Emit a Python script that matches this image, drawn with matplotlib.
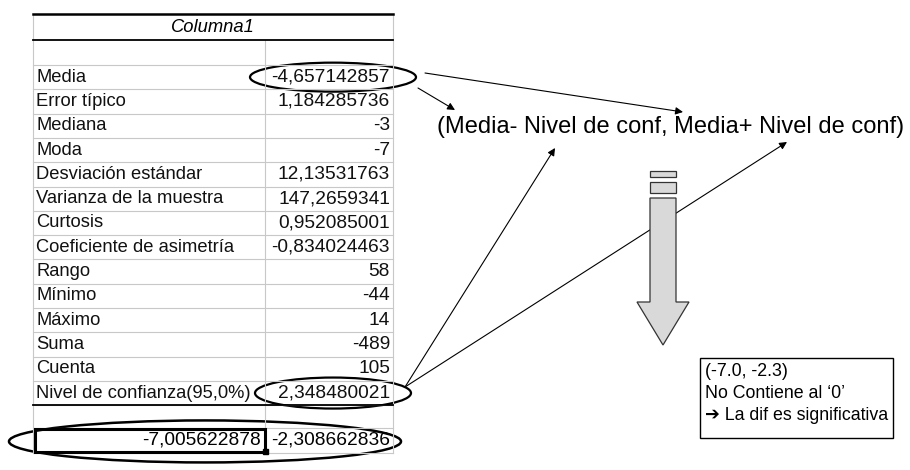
import matplotlib.pyplot as plt
from matplotlib.patches import Ellipse, Rectangle, Polygon

plt.rcParams['font.family'] = ['Liberation Sans', 'DejaVu Sans']

# datos de la tabla (estadística descriptiva)
encabezado = 'Columna1'
etiquetas = ['Media', 'Error típico', 'Mediana', 'Moda', 'Desviación estándar',
             'Varianza de la muestra', 'Curtosis', 'Coeficiente de asimetría',
             'Rango', 'Mínimo', 'Máximo', 'Suma', 'Cuenta',
             'Nivel de confianza(95,0%)']
valores = ['-4,657142857', '1,184285736', '-3', '-7', '12,13531763',
           '147,2659341', '0,952085001', '-0,834024463', '58', '-44', '14',
           '-489', '105', '2,348480021']
intervalo = ['-7,005622878', '-2,308662836']

formula = '(Media- Nivel de conf, Media+ Nivel de conf)'
conclusion = ['(-7.0, -2.3)', 'No Contiene al \u20180\u2019',
              '\u2794 La dif es significativa']

fig = plt.figure(figsize=(9.1, 4.7), dpi=100)
ax = fig.add_axes([0, 0, 1, 1])
ax.set_xlim(0, 910)
ax.set_ylim(470, 0)
ax.axis('off')

# geometria de la tabla
x_izq, x_mid, x_der = 33, 265, 393
y_top, y_head = 14, 40
fila = 24.3
y_media = 65  # borde superior de la fila "Media"
gris = '#c8c8c8'
fs_tab = 13.2
fs_val = 13.8

# lineas de cuadricula
n = len(etiquetas)
for i in range(n + 1):
    y = y_media + i * fila
    ax.plot([x_izq, x_der], [y, y], color=gris, lw=0.8)
y_fin = y_media + n * fila
y_ult = y_fin + fila * 0.95
y_bot = y_ult + fila
ax.plot([x_izq, x_der], [y_ult, y_ult], color=gris, lw=0.8)
ax.plot([x_izq, x_der], [y_bot, y_bot], color=gris, lw=0.8)
ax.plot([x_izq, x_izq], [y_top, y_bot], color=gris, lw=0.8)
ax.plot([x_der, x_der], [y_top, y_bot], color=gris, lw=0.8)
ax.plot([x_mid, x_mid], [y_head, y_bot], color=gris, lw=0.8)

# lineas gruesas
ax.plot([x_izq, x_der], [y_top, y_top], color='black', lw=1.8)
ax.plot([x_izq, x_der], [y_head, y_head], color='black', lw=1.3)
ax.plot([x_izq, x_der], [y_fin, y_fin], color='black', lw=1.3)

ax.text((x_izq + x_der) / 2, (y_top + y_head) / 2 + 1, encabezado,
        style='italic', fontsize=fs_tab, ha='center', va='center')

for i, (lab, val) in enumerate(zip(etiquetas, valores)):
    yc = y_media + (i + 0.5) * fila
    ax.text(x_izq + 3, yc, lab, fontsize=fs_tab, ha='left', va='center', color='#111111')
    ax.text(x_der - 3, yc, val, fontsize=fs_val, ha='right', va='center', color='#111111')

yc = (y_ult + y_bot) / 2
ax.text(x_mid - 4, yc, intervalo[0], fontsize=fs_val, ha='right', va='center')
ax.text(x_der - 3, yc, intervalo[1], fontsize=fs_val, ha='right', va='center')
# celda seleccionada
ax.add_patch(Rectangle((x_izq + 2, y_ult + 1), x_mid - x_izq - 2, y_bot - y_ult - 2,
                       fill=False, ec='black', lw=2.2, zorder=3))
ax.add_patch(Rectangle((x_mid - 2, y_bot - 4), 5, 5, color='black', zorder=4))

# elipses
ax.add_patch(Ellipse((333, y_media + 0.5 * fila), 166, 29, fill=False, ec='black', lw=1.6))
ax.add_patch(Ellipse((333, y_media + (n - 0.5) * fila), 156, 31, fill=False, ec='black', lw=1.6))
ax.add_patch(Ellipse((205, yc + 1), 392, 42, fill=False, ec='black', lw=1.8))

# texto del intervalo
ax.text(437, 127, formula, fontsize=17, ha='left', va='center')

# flechas
flechas = [((425, 73), (683, 112)), ((418, 88), (455, 110)),
           ((405, 387), (555, 148)), ((405, 387), (787, 142))]
for ini, fin in flechas:
    ax.annotate('', xy=fin, xytext=ini,
                arrowprops=dict(arrowstyle='-|>', lw=0.8, color='black',
                                mutation_scale=11, shrinkA=0, shrinkB=0))

# flecha grande hacia abajo
relleno = '#d9d9d9'
ax.add_patch(Rectangle((650, 171), 26, 6, fc=relleno, ec='#333333', lw=0.9, zorder=5))
ax.add_patch(Rectangle((650, 182), 26, 11, fc=relleno, ec='#333333', lw=0.9, zorder=5))
ax.add_patch(Polygon([(650, 198), (676, 198), (676, 302), (689, 302), (663, 345),
                      (637, 302), (650, 302)], closed=True, fc=relleno,
                     ec='#333333', lw=0.9, zorder=5))

# caja de conclusion
ax.add_patch(Rectangle((700, 358), 193, 80, fill=False, ec='black', lw=1.0))
for i, linea in enumerate(conclusion):
    ax.text(705, 372 + i * 22, linea, fontsize=12.8, ha='left', va='center')

fig.savefig('out.png', dpi=100)
